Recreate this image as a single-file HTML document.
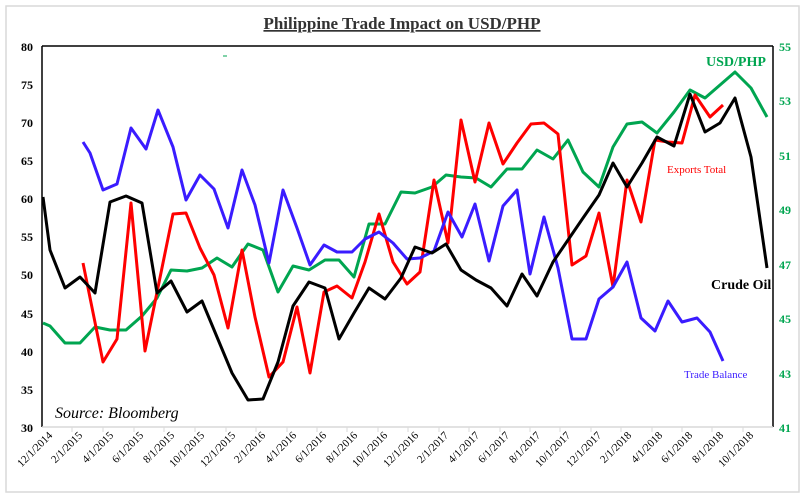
<!DOCTYPE html>
<html><head><meta charset="utf-8"><style>body{margin:0;background:#fff}svg{display:block}text{font-family:"Liberation Serif",serif}</style></head><body>
<svg width="805" height="499" viewBox="0 0 805 499">
<rect x="6" y="6" width="793" height="486" fill="#fff" stroke="#d9d9d9" stroke-width="1.5"/>
<text x="402" y="29" text-anchor="middle" font-size="17" font-weight="bold" fill="#333" text-decoration="underline">Philippine Trade Impact on USD/PHP</text>
<line x1="42" y1="46" x2="773" y2="46" stroke="#000" stroke-width="1.5"/>
<line x1="42" y1="46" x2="42" y2="427" stroke="#000" stroke-width="1.5"/>
<line x1="773" y1="46" x2="773" y2="427" stroke="#000" stroke-width="1.5"/>
<line x1="42" y1="427" x2="773" y2="427" stroke="#d9d9d9" stroke-width="1.5"/>
<g font-size="12" font-weight="bold" text-anchor="end" fill="#000">
<text x="33" y="51">80</text><text x="33" y="89">75</text><text x="33" y="127">70</text><text x="33" y="165">65</text><text x="33" y="203">60</text><text x="33" y="241">55</text><text x="33" y="279">50</text><text x="33" y="318">45</text><text x="33" y="356">40</text><text x="33" y="394">35</text><text x="33" y="432">30</text>
</g>
<g font-size="12" font-weight="bold" fill="#00a550">
<text x="779" y="51">55</text><text x="779" y="105">53</text><text x="779" y="160">51</text><text x="779" y="214">49</text><text x="779" y="269">47</text><text x="779" y="323">45</text><text x="779" y="378">43</text><text x="779" y="432">41</text>
</g>
<g stroke="#d9d9d9" stroke-width="1">
<line x1="72" y1="427" x2="72" y2="432"/><line x1="103" y1="427" x2="103" y2="432"/><line x1="134" y1="427" x2="134" y2="432"/><line x1="164" y1="427" x2="164" y2="432"/><line x1="195" y1="427" x2="195" y2="432"/><line x1="226" y1="427" x2="226" y2="432"/><line x1="256" y1="427" x2="256" y2="432"/><line x1="287" y1="427" x2="287" y2="432"/><line x1="317" y1="427" x2="317" y2="432"/><line x1="347" y1="427" x2="347" y2="432"/><line x1="378" y1="427" x2="378" y2="432"/><line x1="408" y1="427" x2="408" y2="432"/><line x1="439" y1="427" x2="439" y2="432"/><line x1="469" y1="427" x2="469" y2="432"/><line x1="500" y1="427" x2="500" y2="432"/><line x1="530" y1="427" x2="530" y2="432"/><line x1="560" y1="427" x2="560" y2="432"/><line x1="591" y1="427" x2="591" y2="432"/><line x1="621" y1="427" x2="621" y2="432"/><line x1="652" y1="427" x2="652" y2="432"/><line x1="682" y1="427" x2="682" y2="432"/><line x1="712" y1="427" x2="712" y2="432"/><line x1="743" y1="427" x2="743" y2="432"/>
</g>
<g font-size="11" fill="#000" text-anchor="end">
<text transform="translate(53,436) rotate(-45)">12/1/2014</text>
<text transform="translate(83,436) rotate(-45)">2/1/2015</text>
<text transform="translate(114,436) rotate(-45)">4/1/2015</text>
<text transform="translate(144,436) rotate(-45)">6/1/2015</text>
<text transform="translate(175,436) rotate(-45)">8/1/2015</text>
<text transform="translate(205,436) rotate(-45)">10/1/2015</text>
<text transform="translate(236,436) rotate(-45)">12/1/2015</text>
<text transform="translate(266,436) rotate(-45)">2/1/2016</text>
<text transform="translate(297,436) rotate(-45)">4/1/2016</text>
<text transform="translate(327,436) rotate(-45)">6/1/2016</text>
<text transform="translate(358,436) rotate(-45)">8/1/2016</text>
<text transform="translate(388,436) rotate(-45)">10/1/2016</text>
<text transform="translate(419,436) rotate(-45)">12/1/2016</text>
<text transform="translate(449,436) rotate(-45)">2/1/2017</text>
<text transform="translate(480,436) rotate(-45)">4/1/2017</text>
<text transform="translate(510,436) rotate(-45)">6/1/2017</text>
<text transform="translate(541,436) rotate(-45)">8/1/2017</text>
<text transform="translate(571,436) rotate(-45)">10/1/2017</text>
<text transform="translate(602,436) rotate(-45)">12/1/2017</text>
<text transform="translate(632,436) rotate(-45)">2/1/2018</text>
<text transform="translate(663,436) rotate(-45)">4/1/2018</text>
<text transform="translate(693,436) rotate(-45)">6/1/2018</text>
<text transform="translate(724,436) rotate(-45)">8/1/2018</text>
<text transform="translate(754,436) rotate(-45)">10/1/2018</text>
</g>
<g fill="none" stroke-width="3" stroke-linejoin="round">
<polyline stroke="#00a550" points="43,323 50,326 65,343 80,343 95,327 110,330 126,330 142,316 157,298 171,270 187,271 202,268 217,258 232,267 248,244 263,250 278,292 293,266 309,270 325,260 339,260 354,277 369,224 385,224 401,192 415,193 432,187 446,175 461,177 476,178 491,187 507,169 522,169 537,150 553,159 568,140 583,172 599,187 613,147 627,124 642,122 657,133 674,112 690,90 705,98 720,85 735,72 751,88 767,117"/>
<polyline stroke="#ff0000" points="83,263 103,362 117,339 131,203 145,351 173,214 186,213 200,248 214,275 228,328 242,250 255,317 269,377 283,362 297,307 310,373 324,292 337,286 352,298 365,262 379,214 393,262 407,284 420,272 434,180 448,243 461,120 475,182 489,123 503,164 517,143 531,124 544,123 558,134 572,265 586,256 599,213 613,287 627,180 641,222 655,140 668,142 682,143 695,95 710,117 723,105"/>
<polyline stroke="#3a1cff" points="83,142 90,153 103,190 117,184 131,128 146,149 158,110 173,147 186,200 200,175 214,189 228,228 242,170 255,205 269,263 283,190 297,228 310,265 324,245 337,252 352,252 365,239 379,232 393,243 407,259 420,258 434,251 448,212 462,237 475,204 489,261 503,206 517,190 530,274 544,217 558,268 572,339 586,339 599,299 613,287 627,262 641,318 655,331 668,301 682,322 697,318 710,332 723,361"/>
<polyline stroke="#000" points="43,197 50,250 65,288 80,277 95,293 110,202 126,196 142,203 157,293 171,281 187,312 202,301 217,337 232,373 248,400 263,399 278,362 293,306 309,282 325,288 339,339 354,313 369,288 385,299 401,278 415,247 432,253 446,244 461,270 476,280 491,288 507,306 522,274 537,296 553,262 568,240 583,218 599,195 613,163 627,187 642,163 657,137 674,146 690,94 705,132 720,123 735,98 751,157 767,268"/>
</g>
<line x1="223" y1="56" x2="227" y2="56" stroke="#00a550" stroke-width="1"/>
<text x="706" y="66" font-size="14" font-weight="bold" fill="#00a550">USD/PHP</text>
<text x="667" y="173" font-size="11" fill="#ff0000">Exports Total</text>
<text x="711" y="289" font-size="14" font-weight="bold" fill="#000">Crude Oil</text>
<text x="684" y="378" font-size="11" fill="#3a1cff">Trade Balance</text>
<text x="55" y="418" font-size="16" font-style="italic" fill="#000">Source: Bloomberg</text>
</svg>
</body></html>
